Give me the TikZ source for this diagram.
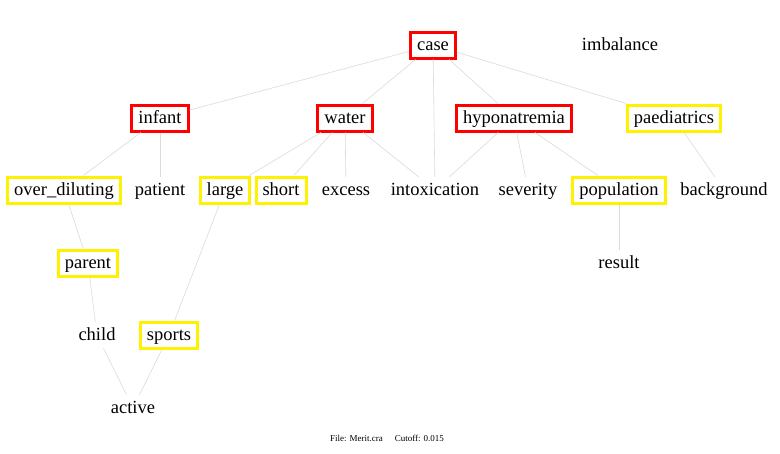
\documentclass[tikz,border=0pt]{standalone}
\usepackage{fontspec}
\setmainfont{Liberation Serif}
\begin{document}
\begin{tikzpicture}[x=1pt,y=-1pt,
  word/.style={font=\fontsize{18.5}{20}\selectfont, text height=13.5pt, text depth=2.5pt, inner xsep=6.5pt, inner ysep=5pt},
  redbox/.style={word, draw=red, line width=3pt},
  yelbox/.style={word, draw=yellow, line width=3pt},
  link/.style={draw=black!14, line width=0.6pt}]
\useasboundingbox[fill=white] (0,0) rectangle (780,453);
% nodes
\node[redbox] (case) at (433,45) {case};
\node[word] (imbalance) at (620,45) {imbalance};
\node[redbox] (infant) at (160,118) {infant};
\node[redbox] (water) at (345,118) {water};
\node[redbox] (hypo) at (514,118) {hyponatremia};
\node[yelbox] (paed) at (674,118) {paediatrics};
\node[yelbox] (over) at (64,190) {over\_diluting};
\node[word] (patient) at (160,190) {patient};
\node[yelbox] (large) at (225,190) {large};
\node[yelbox] (short) at (281,190) {short};
\node[word] (excess) at (346,190) {excess};
\node[word] (intox) at (435,190) {intoxication};
\node[word] (severity) at (528,190) {severity};
\node[yelbox] (population) at (619,190) {population};
\node[word] (background) at (724,190) {background};
\node[yelbox] (parent) at (88,263) {parent};
\node[word] (result) at (619,263) {result};
\node[word] (child) at (97,335) {child};
\node[yelbox] (sports) at (169,335) {sports};
\node[word] (active) at (133,408) {active};
\node[font=\fontsize{9}{10}\selectfont] (footer) at (387,438) {File: Merit.cra\hspace{12pt}Cutoff: 0.015};
% connectors
\draw[link] (case) -- (infant);
\draw[link] (case) -- (water);
\draw[link] (case) -- (intox);
\draw[link] (case) -- (hypo);
\draw[link] (case) -- (paed);
\draw[link] (infant) -- (over);
\draw[link] (infant) -- (patient);
\draw[link] (water) -- (large);
\draw[link] (water) -- (short);
\draw[link] (water) -- (excess);
\draw[link] (water) -- (intox);
\draw[link] (hypo) -- (intox);
\draw[link] (hypo) -- (severity);
\draw[link] (hypo) -- (population);
\draw[link] (paed) -- (background);
\draw[link] (over) -- (parent);
\draw[link] (large) -- (sports);
\draw[link] (parent) -- (child);
\draw[link] (child) -- (active);
\draw[link] (sports) -- (active);
\draw[link] (population) -- (result);
\end{tikzpicture}
\end{document}
